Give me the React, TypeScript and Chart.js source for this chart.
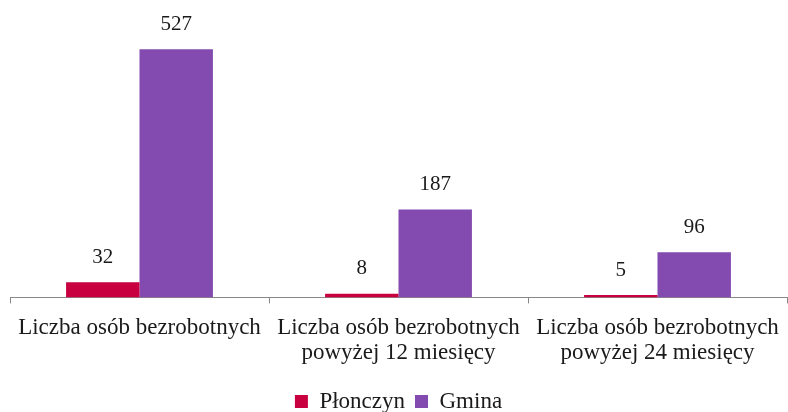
import React, { useEffect, useRef } from "react";
import { Chart, registerables } from "chart.js";

Chart.register(...registerables);

const categories: string[][] = [
  ["Liczba osób bezrobotnych"],
  ["Liczba osób bezrobotnych", "powyżej 12 miesięcy"],
  ["Liczba osób bezrobotnych", "powyżej 24 miesięcy"],
];
const plonczyn = [32, 8, 5];
const gmina = [527, 187, 96];
const seriesNames = ["Płonczyn", "Gmina"];
const colors = ["#C8003F", "#834BAF"];

const FONT = "'Liberation Serif', 'DejaVu Serif', serif";
const FS = 23;

const valueLabels = {
  id: "valueLabels",
  afterDatasetsDraw(chart: any) {
    const ctx = chart.ctx;
    ctx.save();
    ctx.font = `21px ${FONT}`;
    ctx.fillStyle = "#1a1a1a";
    ctx.textAlign = "center";
    ctx.textBaseline = "middle";
    chart.data.datasets.forEach((ds: any, i: number) => {
      const meta = chart.getDatasetMeta(i);
      meta.data.forEach((el: any, j: number) => {
        ctx.fillText(String(ds.data[j]), el.x, el.y - 25);
      });
    });
    ctx.restore();
  },
};

export default function App() {
  const ref = useRef<HTMLCanvasElement>(null);
  useEffect(() => {
    document.body.style.margin = "0";
    const chart = new Chart(ref.current!, {
      type: "bar",
      data: {
        labels: categories,
        datasets: [
          { label: seriesNames[0], data: plonczyn, backgroundColor: colors[0], barPercentage: 1, categoryPercentage: 0.567 },
          { label: seriesNames[1], data: gmina, backgroundColor: colors[1], barPercentage: 1, categoryPercentage: 0.567 },
        ],
      },
      options: {
        responsive: false,
        animation: false,
        layout: { padding: { left: 10, right: 1, top: 15, bottom: -11 } },
        scales: {
          y: { display: false, min: 0, max: 600 },
          x: {
            grid: { drawOnChartArea: false, drawTicks: true, tickLength: 6, color: "#888888", offset: true },
            border: { display: true, color: "#888888", width: 1 },
            ticks: { font: { family: FONT, size: FS, lineHeight: 1.1 }, color: "#1a1a1a", padding: 12, maxRotation: 0, autoSkip: false },
            afterFit: (scale: any) => { scale.height += 2; scale.paddingRight = 0; scale.paddingLeft = 0; },
          },
        },
        plugins: {
          legend: {
            position: "bottom",
            labels: { font: { family: FONT, size: FS }, color: "#1a1a1a", boxWidth: 13, boxHeight: 13, padding: 10 },
          },
          tooltip: { enabled: false },
        },
      },
      plugins: [valueLabels],
    });
    return () => chart.destroy();
  }, []);
  return (
    <div style={{ position: "absolute", left: 0, top: 0, width: 788, height: 412 }}>
      <canvas ref={ref} width={788} height={412} />
    </div>
  );
}
